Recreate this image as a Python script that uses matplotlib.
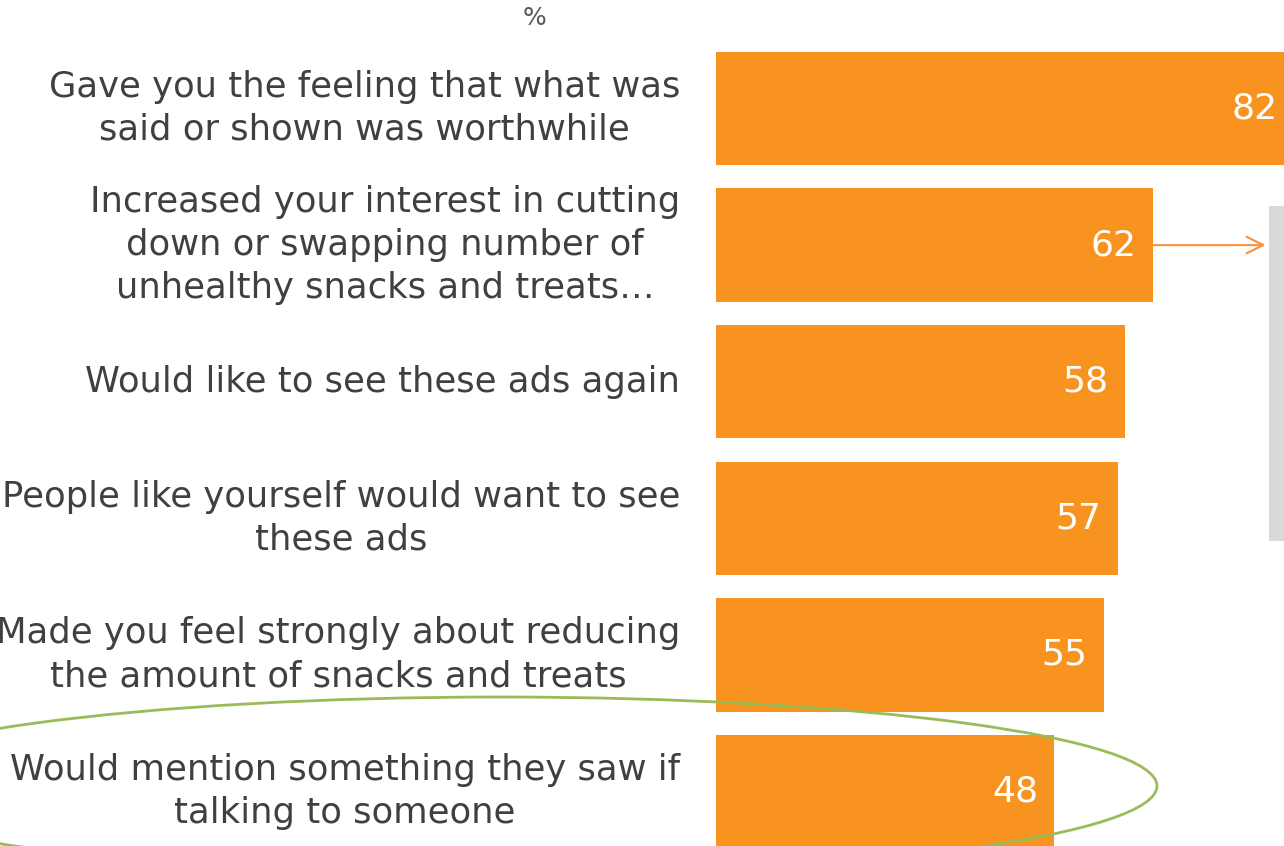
import matplotlib.pyplot as plt
from matplotlib.patches import Ellipse, Rectangle

plt.rcParams["font.family"] = ["DejaVu Sans"]

labels = [
    "Gave you the feeling that what was\nsaid or shown was worthwhile",
    "Increased your interest in cutting\ndown or swapping number of\nunhealthy snacks and treats\u2026",
    "Would like to see these ads again",
    "People like yourself would want to see\nthese ads",
    "Made you feel strongly about reducing\nthe amount of snacks and treats",
    "Would mention something they saw if\ntalking to someone",
]
values = [82, 62, 58, 57, 55, 48]

orange = "#F7931E"
text_col = "#404040"

fig = plt.figure(figsize=(12.84, 8.46), dpi=100)
ax = fig.add_axes([716 / 1284, 0, 568 / 1284, 1])
pos = list(range(len(values)))
ax.barh(pos, values, height=0.83, color=orange)
ax.set_xlim(0, 80.6)
ax.set_ylim(5.399, -0.794)
ax.axis("off")

for i, (lab, v) in enumerate(zip(labels, values)):
    ax.text(v - 2.3, i, str(v), ha="right", va="center", color="white",
            fontsize=26, clip_on=False)
    ax.text(-5.1, i, lab, ha="right", va="center", multialignment="center",
            color=text_col, fontsize=25.5, linespacing=1.33, clip_on=False)

# arrow from the second bar towards the side panel
ax.annotate("", xy=(78.0, 1), xytext=(values[1], 1),
            arrowprops=dict(arrowstyle="->", color="#F79646", lw=1.6,
                            mutation_scale=30, shrinkA=0, shrinkB=0))

# overlay in pixel units for the callouts
ov = fig.add_axes([0, 0, 1, 1], zorder=3)
ov.set_xlim(0, 1284)
ov.set_ylim(846, 0)
ov.axis("off")
ov.add_patch(Rectangle((1269, 206), 30, 335, color="#D9D9D9", lw=0))
ov.add_patch(Ellipse((500, 786), 1314, 178, fill=False, ec="#9BBB59", lw=2))
ov.text(534, 18, "%", ha="center", va="center", color="#595959", fontsize=18)

fig.savefig("out.png", dpi=100)
